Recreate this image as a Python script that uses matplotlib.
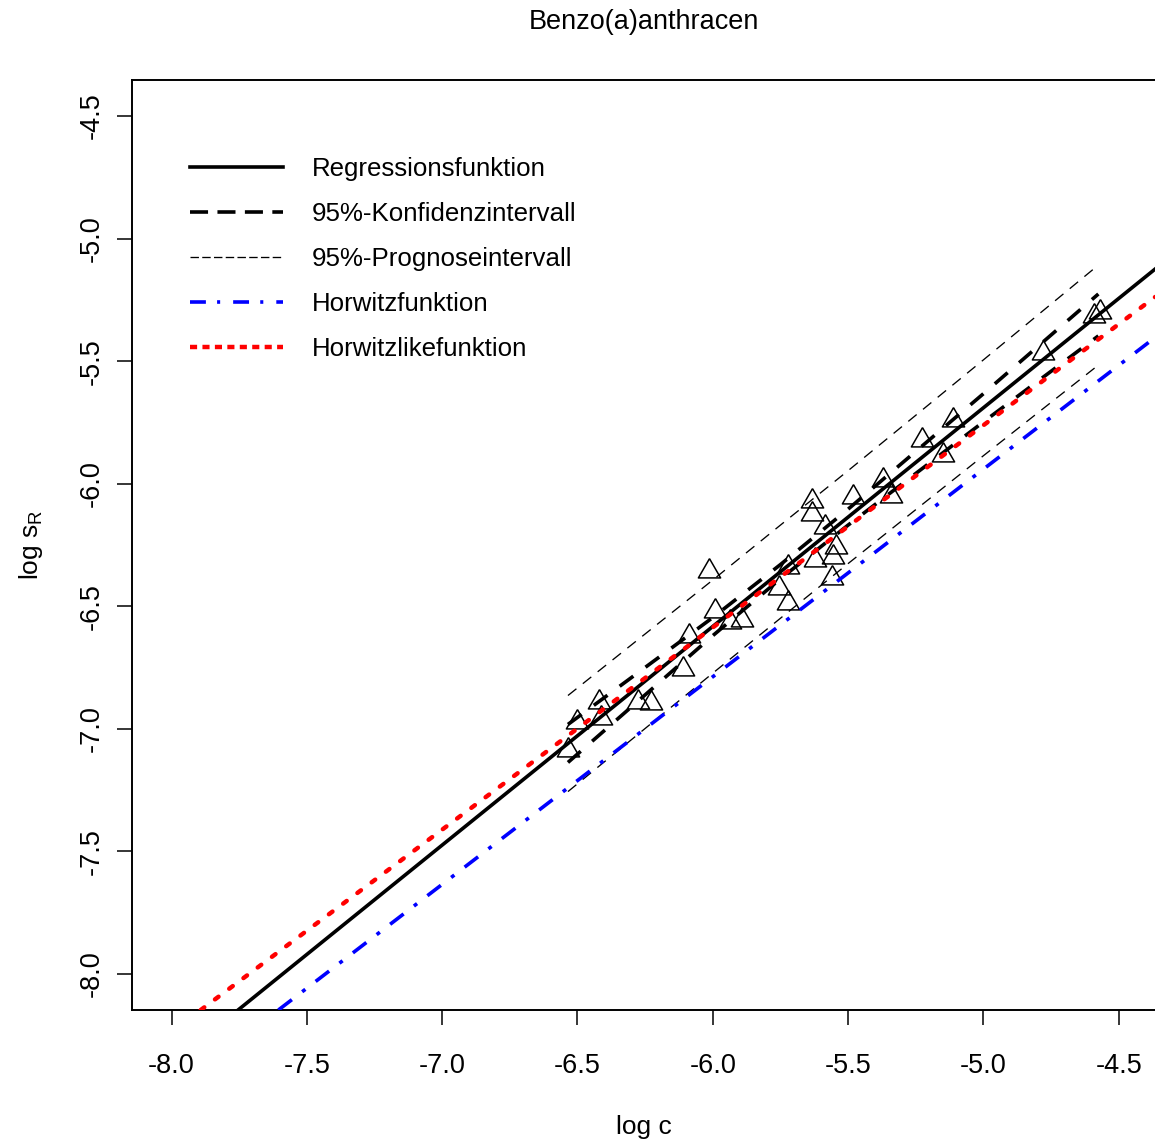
import numpy as np
import matplotlib.pyplot as plt
from matplotlib.lines import Line2D

plt.rcParams['font.family'] = ['Liberation Sans', 'DejaVu Sans']

# measured values (log c, log s_R)
log_c = [-6.535, -6.502, -6.420, -6.413, -6.276, -6.228, -6.088, -6.110,
         -6.014, -5.991, -5.936, -5.892, -5.755, -5.722, -5.722, -5.633,
         -5.633, -5.585, -5.622, -5.544, -5.555, -5.559, -5.482, -5.371,
         -5.341, -5.227, -5.150, -5.112, -4.780, -4.592, -4.569]
log_sr = [-7.087, -6.972, -6.891, -6.956, -6.891, -6.895, -6.622, -6.756,
          -6.356, -6.520, -6.564, -6.556, -6.426, -6.340, -6.487, -6.071,
          -6.124, -6.177, -6.311, -6.258, -6.299, -6.385, -6.055, -5.985,
          -6.050, -5.822, -5.883, -5.740, -5.467, -5.316, -5.300]

# straight lines, read where they leave the plot region
reg_x = [-7.754, -4.365]
reg_y = [-8.147, -5.124]
horw_x = [-7.605, -4.365]
horw_y = [-8.147, -5.403]
hlike_x = [-7.892, -4.365]
hlike_y = [-8.147, -5.238]

# confidence / prediction bands
band_x = [-6.535, -6.0, -5.75, -5.5, -5.0, -4.575]
ci_upper = [-6.982, -6.546, -6.330, -6.104, -5.633, -5.226]
ci_lower = [-7.137, -6.620, -6.388, -6.169, -5.748, -5.397]
pi_upper = [-6.864, -6.393, -6.169, -5.947, -5.495, -5.108]
pi_lower = [-7.256, -6.773, -6.549, -6.326, -5.886, -5.516]

ticks = [-8.0, -7.5, -7.0, -6.5, -6.0, -5.5, -5.0, -4.5]
labels = ['Regressionsfunktion', '95%-Konfidenzintervall', '95%-Prognoseintervall',
          'Horwitzfunktion', 'Horwitzlikefunktion']

W, H = 1155, 1145
fig = plt.figure(figsize=(W / 100, H / 100), dpi=100)
# plot region runs just past the right edge of the picture
ax = fig.add_axes([132 / W, 1 - 1010 / H, 1024 / W, 930 / H])

# open triangles, centred like R's pch=2
tri = [(0, 1), (-0.866, -0.5), (0.866, -0.5), (0, 1)]
ax.plot(log_c, log_sr, linestyle='none', marker=tri, markersize=18.5,
        markerfacecolor='none', markeredgecolor='black', markeredgewidth=1.1, zorder=2)

ax.plot(reg_x, reg_y, color='black', lw=2.6, zorder=3)
ax.plot(band_x, ci_upper, color='black', lw=2.6, linestyle=(0, (4.7, 4.2)), zorder=3)
ax.plot(band_x, ci_lower, color='black', lw=2.6, linestyle=(0, (4.7, 4.2)), zorder=3)
ax.plot(band_x, pi_upper, color='black', lw=0.95, linestyle=(0, (8.2, 6.2)), zorder=3)
ax.plot(band_x, pi_lower, color='black', lw=0.95, linestyle=(0, (8.2, 6.2)), zorder=3)
ax.plot(horw_x, horw_y, color='blue', lw=2.6, linestyle=(0, (4.7, 3.6, 1.1, 3.6)), zorder=3)
ax.plot(hlike_x, hlike_y, color='red', lw=3.2, linestyle=(0, (1.0, 3.0)),
        dash_capstyle='round', zorder=3)

ax.set_xlim(-8.146, -4.362)
ax.set_ylim(-8.147, -4.353)
ax.set_xticks(ticks)
ax.set_yticks(ticks)
ax.set_xticklabels([f'{t:.1f}' for t in ticks])
ax.set_yticklabels([f'{t:.1f}' for t in ticks])
ax.tick_params(direction='out', length=10.8, width=1.1, labelsize=19.5)
ax.tick_params(axis='x', pad=20.2)
ax.tick_params(axis='y', pad=8.5, labelrotation=90)
for lab in ax.get_yticklabels():
    lab.set_va('center')
for sp in ax.spines.values():
    sp.set_linewidth(1.4)

ax.set_xlabel('log c', fontsize=19, va='center')
ax.xaxis.set_label_coords(0.5, -(1127 - 1010) / 930)
ax.set_ylabel(r'log s$_\mathregular{R}$', fontsize=19, va='center')
ax.yaxis.set_label_coords(-(132 - 31) / 1024, 0.5)
ax.text(0.5, 1 + 58 / 930, 'Benzo(a)anthracen', transform=ax.transAxes,
        ha='center', va='center', fontsize=19.5)

# legend samples use R's shorter dash patterns
handles = [
    Line2D([], [], color='black', lw=2.6),
    Line2D([], [], color='black', lw=2.6, linestyle=(0, (5.0, 2.6))),
    Line2D([], [], color='black', lw=0.95, linestyle=(0, (6.4, 2.5))),
    Line2D([], [], color='blue', lw=2.6, linestyle=(0, (4.4, 3.1, 0.85, 3.6))),
    Line2D([], [], color='red', lw=3.2, linestyle=(0, (1.6, 1.2))),
]
ax.legend(handles, labels, loc='upper left', bbox_to_anchor=(58 / 1024, 1 - 77 / 930),
          frameon=False, fontsize=18.6, handlelength=3.6, handletextpad=1.12,
          labelspacing=0.81, borderpad=0, borderaxespad=0)

fig.savefig('out.png', dpi=100)
